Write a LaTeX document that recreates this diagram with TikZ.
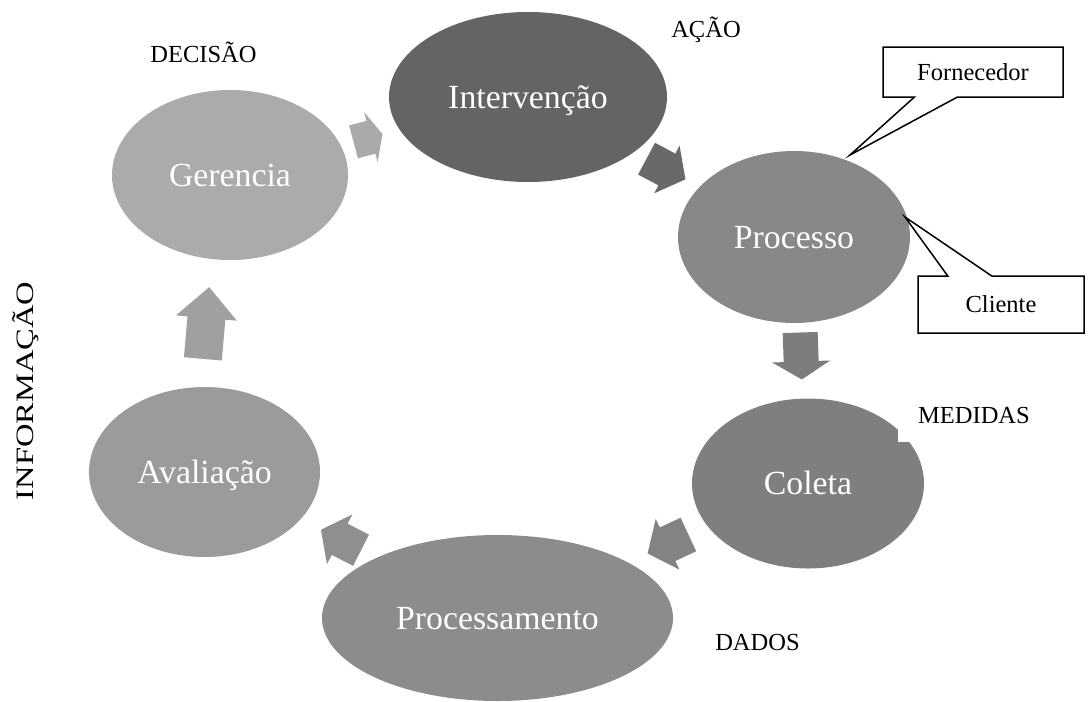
\documentclass[tikz,border=0pt]{standalone}
\usepackage{fontspec}
\setmainfont{Liberation Serif}
\usetikzlibrary{shapes.geometric,shapes.callouts}

% stage fills
\definecolor{cInterv}{HTML}{646464}
\definecolor{cGer}{HTML}{ABABAB}
\definecolor{cProc}{HTML}{888888}
\definecolor{cCol}{HTML}{7F7F7F}
\definecolor{cPrm}{HTML}{8C8C8C}
\definecolor{cAval}{HTML}{9B9B9B}
% cycle arrow fills
\definecolor{aOne}{HTML}{AAAAAA}
\definecolor{aTwo}{HTML}{696969}
\definecolor{aThree}{HTML}{7D7D7D}
\definecolor{aFour}{HTML}{838383}
\definecolor{aFive}{HTML}{8F8F8F}
\definecolor{aSix}{HTML}{A0A0A0}

% block arrow: #1 centre, #2 direction, #3 length, #4 head length,
% #5 shaft width, #6 head width, #7 colour
\newcommand\cyclearrow[7]{%
  \fill[#7, shift={#1}, rotate=#2]
    ({-#3/2},{-#5/2}) -- ({#3/2-#4},{-#5/2}) -- ({#3/2-#4},{-#6/2}) -- ({#3/2},0)
    -- ({#3/2-#4},{#6/2}) -- ({#3/2-#4},{#5/2}) -- ({-#3/2},{#5/2}) -- cycle;}

\tikzset{
  stage/.style={ellipse, inner sep=0pt, text=white,
    font=\fontsize{33.8}{40}\selectfont, text height=22.1pt, text depth=0pt},
  tag/.style={font=\fontsize{24.5}{29}\selectfont, inner sep=0pt},
  note/.style={rectangle callout, draw=black, line width=1.5pt, fill=white,
    font=\fontsize{24.5}{29}\selectfont, inner sep=0pt},
}

\begin{document}
\begin{tikzpicture}[x=1pt, y=-1pt]
\useasboundingbox (0,0) rectangle (1088,702);

% stages of the cycle
\node[stage, fill=cInterv, minimum width=278pt, minimum height=170pt] (interv) at (528,97) {Intervenção};
\node[stage, fill=cGer, minimum width=236pt, minimum height=170pt] (ger) at (230,175) {Gerencia};
\node[stage, fill=cProc, minimum width=232pt, minimum height=172pt] (proc) at (794,237) {Processo};
\node[stage, fill=cCol, minimum width=232pt, minimum height=170pt] (col) at (808,483.5) {Coleta};
\node[stage, fill=cPrm, minimum width=351pt, minimum height=166pt] (prm) at (497.5,618) {Processamento};
\node[stage, fill=cAval, minimum width=231pt, minimum height=170pt] (aval) at (204.5,472) {Avaliação};

% arrows between the stages
\cyclearrow{(368,138)}{15}{30}{12}{34}{52}{aOne}
\cyclearrow{(666,169)}{-28}{44}{21}{36}{54}{aTwo}
\cyclearrow{(801,356)}{-88}{47}{18}{35}{58}{aThree}
\cyclearrow{(668,544)}{-155}{45}{22}{37}{56}{aFour}
\cyclearrow{(341,540)}{153}{45}{21}{35}{56}{aFive}
\cyclearrow{(206,323)}{85}{72}{31}{38}{61}{aSix}

% callouts on the process
\node[note, minimum width=180pt, minimum height=50pt,
  callout absolute pointer={(850,155)}, callout pointer width=43pt] (forn) at (973,72) {Fornecedor};
\node[note, minimum width=166pt, minimum height=57pt,
  callout absolute pointer={(905,217)}, callout pointer width=44pt] (cli) at (1001,304.5) {Cliente};

% phase labels
\node[tag, anchor=base] (decisao) at (203.5,62) {DECISÃO};
\node[tag, anchor=base] (acao) at (706,37) {AÇÃO};
\node[tag, anchor=base] (dados) at (757.5,650) {DADOS};
\node[tag, fill=white, anchor=base west, inner xsep=20pt, inner ysep=19pt] (medidas) at (898,423) {MEDIDAS};
\node[tag, font=\fontsize{25}{30}\selectfont, rotate=90, anchor=base] (info) at (33,391) {\scalebox{1.3}[1]{INFORMAÇÃO}};
\end{tikzpicture}
\end{document}
